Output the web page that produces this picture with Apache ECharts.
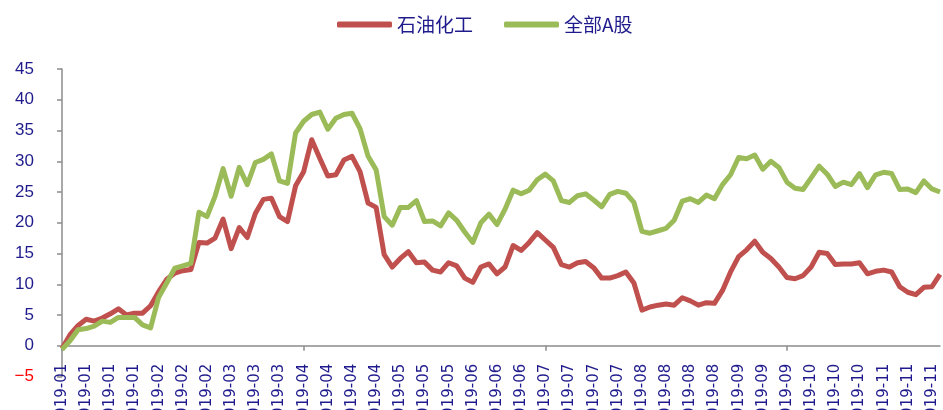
<!DOCTYPE html>
<html><head><meta charset="utf-8">
<script src="https://cdn.jsdelivr.net/npm/echarts@6/dist/echarts.min.js"></script>
<style>html,body{margin:0;padding:0;background:#fff}#c{width:943px;height:410px}</style>
</head><body><div id="c"></div>
<script>
const seriesNames = ['石油化工', '全部A股'];
const tickLabels = [
  '2019-01','2019-01','2019-01','2019-01',
  '2019-02','2019-02','2019-02',
  '2019-03','2019-03','2019-03',
  '2019-04','2019-04','2019-04','2019-04',
  '2019-05','2019-05','2019-05',
  '2019-06','2019-06','2019-06',
  '2019-07','2019-07','2019-07','2019-07',
  '2019-08','2019-08','2019-08','2019-08',
  '2019-09','2019-09','2019-09',
  '2019-10','2019-10','2019-10',
  '2019-11','2019-11','2019-11'
];
const petrochem = [
  -0.5, 1.8, 3.3, 4.3, 4.0, 4.5, 5.2, 6.0, 5.0, 5.3,
  5.3, 6.5, 8.8, 10.8, 11.8, 12.2, 12.4, 16.8, 16.7, 17.5,
  20.6, 15.8, 19.2, 17.6, 21.5, 23.8, 24.0, 21.0, 20.2, 26.0,
  28.3, 33.5, 30.5, 27.6, 27.8, 30.2, 30.8, 28.3, 23.2, 22.5,
  14.8, 12.8, 14.2, 15.3, 13.5, 13.6, 12.3, 12.0, 13.5, 13.0,
  11.0, 10.3, 12.8, 13.3, 11.7, 12.8, 16.3, 15.5, 16.8, 18.4,
  17.2, 16.0, 13.2, 12.8, 13.5, 13.7, 12.7, 11.0, 11.0, 11.4,
  12.0, 10.2, 5.8, 6.3, 6.6, 6.8, 6.6, 7.8, 7.3, 6.6,
  7.0, 6.9, 9.0, 12.0, 14.5, 15.6, 17.0, 15.2, 14.2, 12.8,
  11.1, 10.9, 11.4, 12.8, 15.2, 15.0, 13.2, 13.3, 13.3, 13.5,
  11.7, 12.1, 12.3, 12.0, 9.6, 8.7, 8.3, 9.5, 9.6, 11.6
];
const allA = [
  -0.6, 0.8, 2.6, 2.8, 3.2, 4.0, 3.8, 4.6, 4.6, 4.6,
  3.4, 2.9, 7.9, 10.2, 12.6, 13.0, 13.4, 21.7, 21.0, 24.3,
  28.8, 24.3, 29.0, 26.2, 29.8, 30.3, 31.2, 26.8, 26.4, 34.6,
  36.5, 37.6, 38.0, 35.2, 37.0, 37.6, 37.8, 35.3, 30.8, 28.6,
  21.0, 19.6, 22.5, 22.5, 23.6, 20.2, 20.3, 19.5, 21.6, 20.4,
  18.5, 16.8, 20.0, 21.4, 19.7, 22.2, 25.3, 24.7, 25.3, 27.0,
  27.9, 26.8, 23.6, 23.3, 24.4, 24.7, 23.7, 22.6, 24.6, 25.1,
  24.8, 23.3, 18.6, 18.3, 18.7, 19.1, 20.4, 23.5, 23.9, 23.3,
  24.5, 23.9, 26.2, 27.8, 30.6, 30.4, 31.0, 28.7, 30.0, 29.0,
  26.6, 25.6, 25.4, 27.3, 29.2, 27.9, 25.9, 26.6, 26.2, 28.0,
  25.7, 27.8, 28.2, 28.0, 25.4, 25.5, 24.9, 26.8, 25.5, 25.0
];
const categories = petrochem.map((_, i) => tickLabels[Math.floor(i / 3)]);

const navy = '#1F1B8C';
const axisGray = '#8C8C8C';
const yMin = -5, yMax = 45, gridTop = 69, gridBottom = 33.5;
const zeroOffset = -(410 - gridTop - gridBottom) * (0 - yMin) / (yMax - yMin);
const chart = echarts.init(document.getElementById('c'), null, {renderer: 'canvas'});
chart.setOption({
  animation: false,
  backgroundColor: '#fff',
  legend: {
    left: 332, top: 10,
    itemWidth: 55, itemHeight: 6, icon: 'roundRect', itemGap: 31,
    textStyle: {color: navy, fontSize: 19, fontFamily: 'Noto Sans CJK SC'},
    data: seriesNames
  },
  grid: {left: 62, right: 3, top: gridTop, bottom: gridBottom, outerBoundsMode: 'none', containLabel: false},
  xAxis: {
    type: 'category', data: categories, boundaryGap: false,
    offset: zeroOffset,
    axisLine: {onZero: false, lineStyle: {color: axisGray, width: 1.5}},
    axisTick: {interval: 29, length: 5, lineStyle: {color: axisGray, width: 1.5}},
    axisLabel: {interval: 2, rotate: 90, margin: 18, color: navy, fontSize: 15, fontFamily: 'DejaVu Sans'},
    splitLine: {show: false}
  },
  yAxis: {
    type: 'value', min: yMin, max: yMax, interval: 5,
    axisLine: {show: true, lineStyle: {color: axisGray, width: 1.5}},
    axisTick: {show: true, length: 5, lineStyle: {color: axisGray, width: 1.5}},
    axisLabel: {
      margin: 28, fontSize: 17, fontFamily: 'Liberation Sans',
      color: (v) => (Number(v) < 0 ? '#FF0000' : navy),
      formatter: (v) => (v < 0 ? '\u2212' + Math.abs(v) : String(v))
    },
    splitLine: {show: false}
  },
  series: [
    {name: seriesNames[0], type: 'line', data: petrochem, showSymbol: false, smooth: false,
     lineStyle: {width: 5, color: '#C0504D', join: 'round'}, itemStyle: {color: '#C0504D'}},
    {name: seriesNames[1], type: 'line', data: allA, showSymbol: false, smooth: false,
     lineStyle: {width: 5, color: '#9BBB59', join: 'round'}, itemStyle: {color: '#9BBB59'}}
  ]
});
</script>
</body></html>
